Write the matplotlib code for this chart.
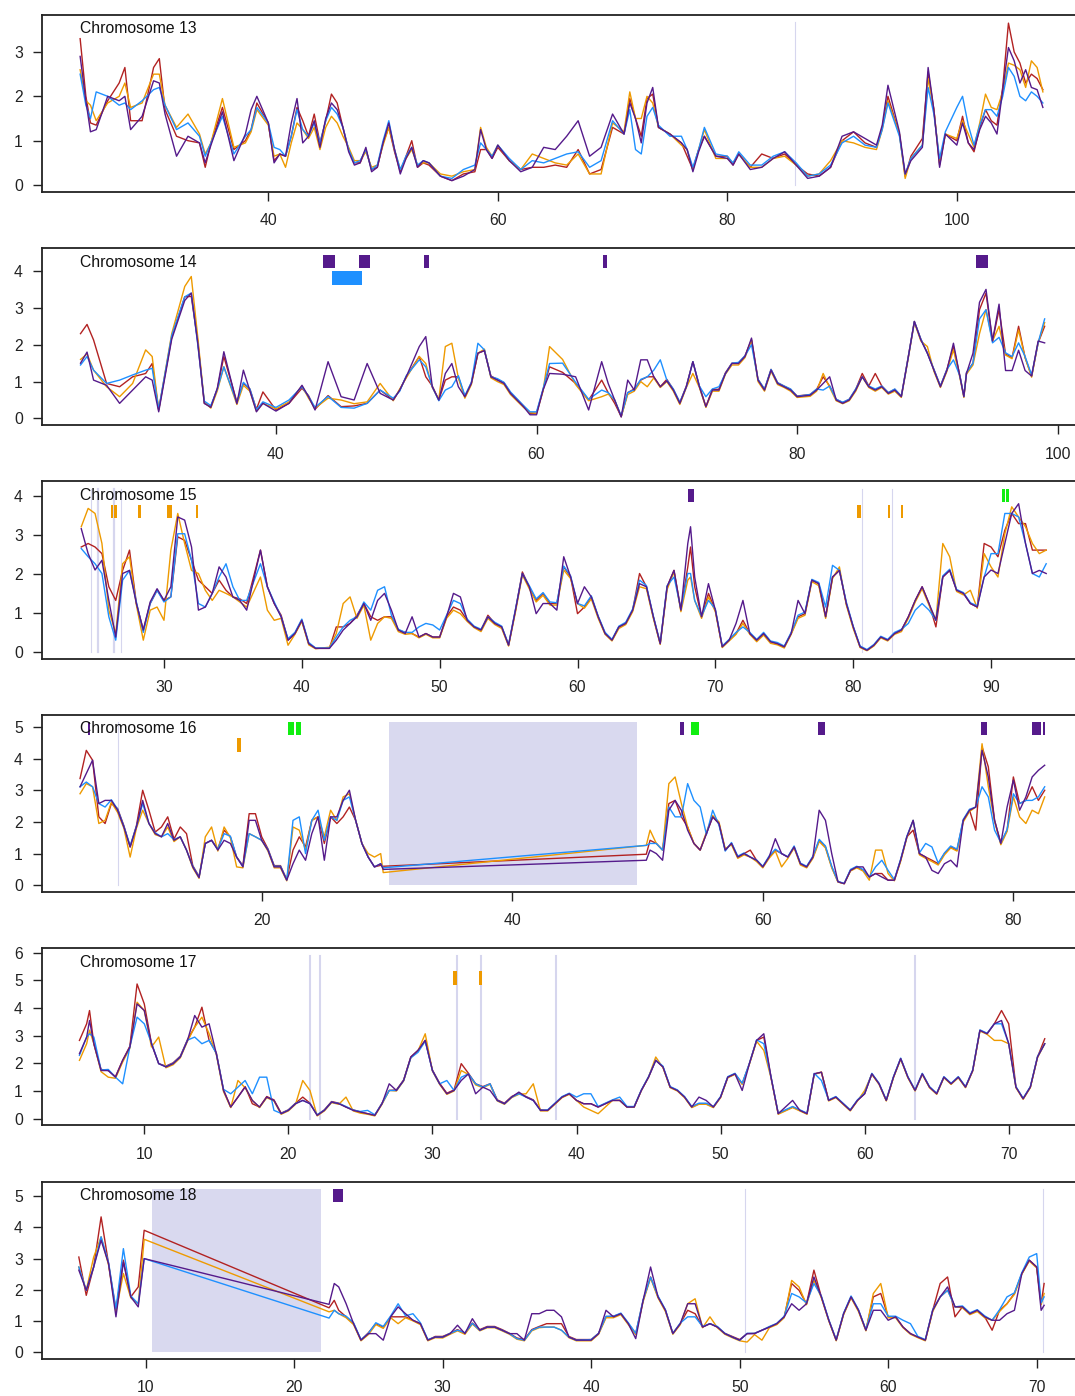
import matplotlib.pyplot as plt
from matplotlib.patches import Rectangle
from matplotlib.transforms import blended_transform_factory

plt.rcParams['font.family'] = ['Liberation Sans', 'DejaVu Sans']

# ---------------- Chromosome 13 ----------------
c13_pos = [23.6, 24.1, 24.5, 25, 26, 27, 27.5, 28, 29, 30,
           30.5, 31, 32, 33, 34, 34.5, 35, 36, 37, 38,
           38.5, 39, 40, 40.5, 41, 41.5, 42, 42.5, 43, 43.5,
           44, 44.5, 45, 45.5, 46, 46.5, 47, 47.5, 48, 48.5,
           49, 49.5, 50, 50.5, 51, 51.5, 52, 52.5, 53, 53.5,
           54, 55, 56, 57, 58, 58.5, 59, 59.5, 60, 61,
           62, 63, 64, 65, 66, 67, 68, 69, 70, 71,
           71.5, 72, 72.5, 73, 73.5, 74, 75, 76, 76.5, 77,
           77.5, 78, 79, 80, 80.5, 81, 82, 83, 84, 85,
           86, 87, 88, 89, 90, 91, 92, 93, 93.5, 94,
           95, 95.5, 96, 97, 97.5, 98, 98.5, 99, 100, 100.5,
           101, 101.5, 102, 102.5, 103, 103.5, 104, 104.5, 105, 105.5,
           106, 106.5, 107, 107.5]
c13_red = [3.3, 2.0, 1.4, 1.35, 1.9, 2.3, 2.65, 1.45, 1.45, 2.65,
           2.85, 1.7, 1.1, 1.0, 0.95, 0.4, 0.95, 1.75, 0.8, 1.0,
           1.25, 1.85, 1.4, 0.55, 0.7, 0.65, 1.1, 1.75, 1.45, 1.1,
           1.6, 0.95, 1.45, 2.05, 1.85, 1.3, 0.8, 0.5, 0.5, 0.8,
           0.35, 0.4, 0.95, 1.3, 0.75, 0.3, 0.65, 1.0, 0.4, 0.5,
           0.45, 0.2, 0.1, 0.25, 0.3, 0.8, 0.8, 0.6, 0.85, 0.55,
           0.35, 0.4, 0.4, 0.45, 0.4, 0.8, 0.25, 0.35, 1.3, 1.15,
           1.95, 1.5, 1.1, 1.95, 2.05, 1.3, 1.15, 0.95, 0.65, 0.35,
           0.8, 1.1, 0.65, 0.65, 0.45, 0.7, 0.4, 0.7, 0.6, 0.7,
           0.45, 0.25, 0.2, 0.4, 1.0, 1.2, 0.95, 0.85, 1.3, 2.0,
           1.15, 0.2, 0.65, 1.05, 2.55, 1.7, 0.45, 1.15, 1.0, 1.55,
           0.95, 0.75, 1.3, 1.7, 1.45, 1.35, 2.2, 3.65, 3.0, 2.75,
           2.3, 2.5, 2.4, 2.15]
c13_orange = [2.6, 1.9, 1.8, 1.45, 1.85, 2.0, 2.3, 1.75, 1.85, 2.5,
              2.5, 1.8, 1.3, 1.6, 1.15, 0.7, 0.95, 1.95, 0.85, 0.95,
              1.2, 1.7, 1.35, 0.65, 0.7, 0.4, 0.95, 1.4, 1.25, 1.05,
              1.3, 0.8, 1.3, 1.55, 1.4, 1.1, 0.85, 0.55, 0.55, 0.75,
              0.4, 0.45, 0.9, 1.3, 0.8, 0.35, 0.6, 0.8, 0.45, 0.5,
              0.5, 0.25, 0.2, 0.3, 0.35, 1.3, 0.85, 0.65, 0.9, 0.55,
              0.35, 0.7, 0.6, 0.5, 0.45, 0.7, 0.25, 0.25, 1.4, 1.2,
              2.1, 1.5, 1.5, 2.0, 1.85, 1.3, 1.15, 0.9, 0.8, 0.35,
              0.8, 1.25, 0.6, 0.6, 0.5, 0.7, 0.4, 0.4, 0.6, 0.65,
              0.45, 0.2, 0.25, 0.55, 1.0, 0.95, 0.85, 0.8, 1.25, 1.9,
              1.15, 0.15, 0.6, 0.9, 2.4, 1.7, 0.5, 1.15, 1.05, 1.45,
              1.15, 0.85, 1.4, 2.05, 1.75, 1.7, 2.1, 2.75, 2.7, 2.6,
              2.2, 2.8, 2.65, 2.1]
c13_blue = [2.5, 1.8, 1.5, 2.1, 2.0, 1.8, 1.85, 1.7, 1.9, 2.15,
            2.2, 1.8, 1.25, 1.4, 1.1, 0.65, 0.95, 1.55, 0.7, 1.1,
            1.25, 1.75, 1.4, 0.85, 0.8, 0.65, 1.1, 1.7, 1.25, 1.1,
            1.4, 0.95, 1.45, 1.75, 1.6, 1.3, 0.8, 0.5, 0.55, 0.8,
            0.35, 0.45, 1.0, 1.45, 0.8, 0.35, 0.65, 0.85, 0.45, 0.55,
            0.5, 0.2, 0.15, 0.35, 0.45, 0.95, 0.8, 0.65, 0.9, 0.6,
            0.35, 0.55, 0.5, 0.6, 0.7, 0.75, 0.4, 0.55, 1.45, 1.15,
            1.7, 0.8, 0.7, 1.55, 1.75, 1.35, 1.1, 1.1, 0.8, 0.4,
            0.8, 1.3, 0.7, 0.65, 0.5, 0.75, 0.45, 0.45, 0.65, 0.75,
            0.5, 0.2, 0.25, 0.45, 0.95, 1.1, 0.9, 0.85, 1.25, 1.85,
            1.1, 0.25, 0.6, 0.9, 2.2, 1.6, 0.6, 1.2, 1.75, 2.0,
            1.35, 0.9, 1.35, 1.7, 1.7, 1.55, 2.0, 2.65, 2.45, 2.0,
            1.9, 2.1, 2.0, 1.85]
c13_purple = [2.9, 1.9, 1.2, 1.25, 2.0, 1.9, 2.0, 1.25, 1.55, 2.35,
              2.3, 1.6, 0.65, 1.1, 0.95, 0.5, 0.9, 1.65, 0.55, 1.15,
              1.7, 2.0, 1.4, 0.5, 0.7, 0.65, 1.4, 1.95, 0.95, 1.1,
              1.45, 0.85, 1.5, 1.85, 1.7, 1.3, 0.75, 0.45, 0.5, 0.85,
              0.3, 0.4, 0.95, 1.4, 0.8, 0.25, 0.6, 0.85, 0.4, 0.55,
              0.5, 0.2, 0.1, 0.2, 0.35, 1.25, 0.8, 0.6, 0.9, 0.55,
              0.3, 0.4, 0.85, 0.8, 1.1, 1.45, 0.65, 0.85, 1.6, 1.15,
              1.85, 1.5, 0.95, 1.85, 2.2, 1.3, 1.15, 0.95, 0.8, 0.3,
              0.75, 1.1, 0.65, 0.6, 0.45, 0.7, 0.35, 0.4, 0.6, 0.75,
              0.45, 0.15, 0.2, 0.4, 1.1, 1.2, 1.05, 0.9, 1.35, 2.25,
              1.2, 0.25, 0.55, 0.85, 2.65, 1.7, 0.4, 1.15, 0.9, 1.4,
              0.95, 0.8, 1.25, 1.55, 1.4, 1.15, 2.15, 3.1, 2.8, 2.3,
              2.6, 2.2, 2.15, 1.75]

# ---------------- Chromosome 14 ----------------
c14_pos = [25, 25.5, 26, 27, 28, 29, 30, 30.5, 31, 32,
           33, 33.5, 34, 34.5, 35, 35.5, 36, 37, 37.5, 38,
           38.5, 39, 40, 41, 42, 42.5, 43, 44, 45, 46,
           47, 48, 49, 49.5, 50, 51, 51.5, 52, 52.5, 53,
           53.5, 54, 54.5, 55, 55.5, 56, 56.5, 57, 57.5, 58,
           59, 59.5, 60, 60.5, 61, 62, 63, 64, 65, 65.5,
           66, 66.5, 67, 67.5, 68, 68.5, 69, 69.5, 70, 70.5,
           71, 71.5, 72, 72.5, 73, 73.5, 74, 74.5, 75, 75.5,
           76, 76.5, 77, 77.5, 78, 78.5, 79, 79.5, 80, 81,
           81.5, 82, 82.5, 83, 83.5, 84, 84.5, 85, 85.5, 86,
           86.5, 87, 87.5, 88, 88.5, 89, 89.5, 90, 90.5, 91,
           91.5, 92, 92.5, 92.8, 93, 93.5, 94, 94.5, 95, 95.5,
           96, 96.5, 97, 97.5, 98, 98.5, 99]
c14_red = [2.3, 2.55, 2.13, 0.95, 0.86, 1.13, 1.22, 1.49, 0.23, 2.2,
           3.3, 3.31, 2.1, 0.41, 0.32, 0.8, 1.68, 0.45, 0.95, 0.8,
           0.25, 0.72, 0.23, 0.41, 0.82, 0.62, 0.25, 0.62, 0.32, 0.34,
           0.41, 0.77, 0.5, 0.77, 1.13, 1.68, 1.13, 0.88, 0.5, 1.04,
           1.13, 1.13, 0.59, 0.97, 1.77, 1.84, 1.15, 1.06, 0.97, 0.7,
           0.34, 0.14, 0.14, 0.78, 1.4, 1.25, 0.95, 0.5, 1.04, 0.7,
           0.41, 0.05, 0.7, 0.8, 1.04, 1.13, 1.13, 0.86, 1.06, 0.79,
           0.43, 0.88, 1.54, 0.88, 0.32, 0.79, 0.79, 1.24, 1.5, 1.5,
           1.7, 2.13, 1.06, 0.79, 1.33, 0.97, 0.88, 0.79, 0.61, 0.65,
           0.79, 1.13, 0.88, 0.52, 0.43, 0.52, 0.79, 1.22, 0.88, 1.22,
           0.88, 0.7, 0.79, 0.61, 1.61, 2.63, 2.15, 1.77, 1.33, 0.88,
           1.33, 1.95, 1.15, 0.61, 1.24, 1.5, 2.95, 3.4, 2.1, 2.95,
           1.75, 1.65, 2.5, 1.65, 1.15, 2.05, 2.5]
c14_orange = [1.6, 1.75, 1.31, 0.86, 0.59, 0.95, 1.86, 1.68, 0.23, 2.3,
              3.58, 3.85, 2.2, 0.45, 0.28, 0.75, 1.4, 0.38, 0.9, 0.74,
              0.2, 0.41, 0.26, 0.45, 0.88, 0.55, 0.28, 0.55, 0.5, 0.4,
              0.45, 0.95, 0.48, 0.8, 1.1, 1.68, 1.49, 0.84, 0.52, 1.95,
              2.04, 1.1, 0.55, 0.92, 1.77, 1.88, 1.1, 1.0, 0.92, 0.65,
              0.3, 0.16, 0.14, 0.74, 1.95, 1.6, 0.92, 0.48, 0.59, 0.66,
              0.5, 0.05, 0.65, 0.74, 1.0, 0.86, 1.1, 0.84, 1.0, 0.74,
              0.38, 0.84, 1.22, 0.84, 0.3, 0.74, 0.74, 1.2, 1.45, 1.45,
              1.65, 2.13, 1.0, 0.74, 1.28, 0.92, 0.84, 0.74, 0.57, 0.6,
              0.74, 1.22, 0.84, 0.48, 0.4, 0.48, 0.74, 1.13, 0.84, 0.74,
              0.84, 0.66, 0.74, 0.57, 1.57, 2.6, 2.1, 1.95, 1.28, 0.84,
              1.28, 1.86, 1.1, 0.57, 1.2, 1.45, 2.3, 2.95, 2.1, 2.5,
              1.72, 1.62, 2.4, 1.65, 1.12, 2.05, 2.6]
c14_blue = [1.45, 1.68, 1.31, 0.95, 1.04, 1.18, 1.31, 1.36, 0.25, 2.25,
            3.3, 3.4, 2.0, 0.47, 0.35, 0.8, 1.4, 0.43, 0.98, 0.8,
            0.24, 0.45, 0.3, 0.5, 0.86, 0.6, 0.3, 0.6, 0.3, 0.28,
            0.41, 0.77, 0.55, 0.74, 1.16, 1.59, 1.4, 0.86, 0.48, 0.77,
            0.86, 1.16, 0.62, 0.98, 2.04, 1.86, 1.13, 1.08, 0.98, 0.72,
            0.35, 0.18, 0.18, 0.8, 1.49, 1.5, 0.98, 0.52, 0.77, 0.7,
            0.5, 0.07, 0.7, 0.78, 1.06, 1.13, 1.31, 1.59, 1.04, 0.8,
            0.44, 0.86, 1.54, 0.88, 0.59, 0.8, 0.86, 1.22, 1.5, 1.52,
            1.7, 2.0, 1.06, 0.8, 1.33, 0.97, 0.88, 0.8, 0.6, 0.65,
            0.8, 0.77, 0.88, 0.52, 0.44, 0.52, 0.8, 1.13, 0.88, 0.8,
            0.88, 0.7, 0.8, 0.6, 1.6, 2.63, 2.15, 1.77, 1.33, 0.88,
            1.33, 1.59, 1.15, 0.6, 1.24, 1.5, 2.7, 2.95, 2.05, 2.2,
            1.78, 1.68, 2.05, 1.68, 1.18, 2.05, 2.7]
c14_purple = [1.5, 1.8, 1.04, 0.9, 0.41, 0.77, 1.13, 1.04, 0.18, 2.15,
              3.2, 3.4, 2.04, 0.41, 0.3, 0.82, 1.81, 0.4, 1.31, 0.75,
              0.18, 0.41, 0.2, 0.41, 0.9, 0.59, 0.23, 1.54, 0.59, 0.5,
              1.49, 0.68, 0.5, 0.77, 1.13, 1.95, 2.22, 0.86, 0.5, 1.22,
              1.49, 0.86, 0.59, 0.95, 1.77, 1.84, 1.13, 1.04, 0.95, 0.68,
              0.32, 0.1, 0.1, 0.77, 1.22, 1.2, 1.13, 0.23, 1.54, 0.95,
              0.5, 0.04, 1.04, 0.77, 1.59, 1.59, 1.13, 0.86, 1.02, 0.77,
              0.41, 0.86, 1.54, 0.86, 0.32, 0.77, 0.77, 1.22, 1.49, 1.49,
              1.68, 2.18, 1.04, 0.77, 1.31, 0.95, 0.86, 0.77, 0.59, 0.63,
              0.77, 0.95, 1.13, 0.5, 0.41, 0.5, 0.77, 1.13, 0.86, 0.77,
              0.86, 0.68, 0.77, 0.59, 1.59, 2.63, 2.13, 1.77, 1.31, 0.86,
              1.31, 2.04, 1.13, 0.59, 1.22, 1.77, 3.15, 3.5, 2.1, 3.1,
              1.3, 1.3, 1.85, 1.3, 1.15, 2.1, 2.05]

# ---------------- Chromosome 15 ----------------
c15_pos = [24, 24.5, 25, 25.5, 26, 26.5, 27, 27.5, 28, 28.5,
           29, 29.5, 30, 30.5, 31, 31.5, 32, 32.5, 33, 33.5,
           34, 34.5, 35, 35.5, 36, 37, 37.5, 38, 38.5, 39,
           39.5, 40, 40.5, 41, 42, 42.5, 43, 43.5, 44, 44.5,
           45, 45.5, 46, 46.5, 47, 47.5, 48, 48.5, 49, 49.5,
           50, 50.5, 51, 51.5, 52, 52.5, 53, 53.5, 54, 54.5,
           55, 55.5, 56, 56.5, 57, 57.5, 58, 58.5, 59, 59.5,
           60, 60.5, 61, 61.5, 62, 62.5, 63, 63.5, 64, 64.5,
           65, 65.5, 66, 66.5, 67, 67.5, 68, 68.2, 68.5, 69,
           69.5, 70, 70.5, 71, 71.5, 72, 72.5, 73, 73.5, 74,
           74.5, 75, 75.5, 76, 76.5, 77, 77.5, 78, 78.5, 79,
           79.5, 80, 80.5, 81, 81.5, 82, 82.5, 83, 83.5, 84,
           84.5, 85, 85.5, 86, 86.5, 87, 87.5, 88, 88.5, 89,
           89.5, 90, 90.5, 91, 91.5, 92, 92.5, 93, 93.5, 94]
c15_red = [2.69, 2.78, 2.69, 2.52, 1.67, 1.32, 2.09, 2.61, 1.24, 0.56,
           1.24, 1.58, 1.32, 1.41, 2.95, 2.86, 2.35, 1.84, 1.67, 1.5,
           1.84, 1.58, 1.41, 1.36, 1.24, 2.61, 1.67, 1.24, 0.94, 0.3,
           0.47, 0.81, 0.21, 0.09, 0.09, 0.64, 0.64, 0.73, 0.94, 1.24,
           0.9, 0.81, 0.9, 0.9, 0.56, 0.5, 0.47, 0.38, 0.47, 0.38,
           0.38, 0.9, 1.15, 1.07, 0.81, 0.64, 0.56, 0.94, 0.73, 0.64,
           0.17, 1.07, 2.05, 1.67, 1.32, 1.5, 1.24, 1.24, 2.18, 1.92,
           0.98, 1.15, 1.41, 0.9, 0.47, 0.3, 0.64, 0.73, 1.07, 2.01,
           1.67, 0.9, 0.21, 1.67, 2.09, 1.07, 2.18, 2.69, 1.67, 0.9,
           1.5, 1.07, 0.13, 0.3, 0.47, 0.81, 0.47, 0.3, 0.47, 0.26,
           0.21, 0.13, 0.47, 0.9, 0.98, 1.84, 1.75, 0.9, 1.92, 2.09,
           1.24, 0.64, 0.13, 0.04, 0.17, 0.38, 0.3, 0.47, 0.56, 0.9,
           1.32, 1.67, 1.24, 0.64, 1.92, 2.09, 1.58, 1.5, 1.24, 1.15,
           2.78, 2.69, 2.44, 3.12, 3.55, 3.29, 3.29, 2.61, 2.61, 2.61]
c15_orange = [3.21, 3.68, 3.55, 2.78, 1.07, 0.47, 2.26, 2.44, 1.2, 0.3,
              1.07, 1.15, 0.81, 2.61, 3.55, 2.78, 2.09, 2.01, 1.58, 1.32,
              1.58, 1.5, 1.41, 1.28, 1.15, 1.92, 1.07, 0.81, 0.86, 0.17,
              0.45, 0.78, 0.18, 0.08, 0.12, 0.47, 1.24, 1.41, 0.86, 1.2,
              0.3, 0.73, 0.9, 0.86, 0.52, 0.45, 0.47, 0.36, 0.45, 0.36,
              0.36, 0.86, 1.07, 0.98, 0.78, 0.62, 0.52, 0.86, 0.7, 0.6,
              0.15, 1.02, 1.97, 1.62, 1.28, 1.45, 1.2, 1.2, 2.1, 1.88,
              1.24, 1.12, 1.36, 0.86, 0.45, 0.28, 0.6, 0.7, 1.03, 1.67,
              1.62, 0.86, 0.19, 1.6, 2.05, 1.03, 1.84, 1.92, 1.32, 0.86,
              1.41, 1.03, 0.11, 0.28, 0.45, 0.73, 0.45, 0.26, 0.43, 0.22,
              0.18, 0.1, 0.45, 0.86, 0.94, 1.8, 1.7, 0.86, 1.88, 2.18,
              1.2, 0.6, 0.11, 0.03, 0.15, 0.36, 0.28, 0.45, 0.52, 0.86,
              1.28, 1.62, 1.2, 0.81, 2.78, 2.44, 1.55, 1.46, 1.58, 1.12,
              2.52, 2.18, 1.92, 3.03, 3.72, 3.46, 3.21, 2.78, 2.52, 2.61]
c15_blue = [2.65, 2.44, 2.26, 2.01, 0.9, 0.3, 1.84, 2.09, 1.28, 0.5,
            1.24, 1.58, 1.28, 1.41, 3.03, 3.03, 2.35, 1.24, 1.15, 1.5,
            1.92, 2.26, 1.67, 1.32, 1.32, 2.26, 1.67, 1.28, 0.9, 0.34,
            0.5, 0.84, 0.24, 0.1, 0.1, 0.38, 0.64, 0.81, 0.9, 1.28,
            1.07, 1.58, 1.67, 0.94, 0.58, 0.5, 0.5, 0.64, 0.73, 0.69,
            0.56, 0.94, 1.32, 1.24, 0.84, 0.66, 0.58, 0.9, 0.76, 0.66,
            0.19, 1.1, 2.01, 1.7, 1.36, 1.52, 1.28, 1.26, 2.2, 1.95,
            1.24, 1.18, 1.44, 0.92, 0.5, 0.32, 0.66, 0.76, 1.1, 1.84,
            1.7, 0.92, 0.23, 1.7, 1.92, 1.1, 2.01, 2.01, 1.32, 0.92,
            1.32, 1.1, 0.15, 0.32, 0.5, 0.64, 0.5, 0.32, 0.5, 0.28,
            0.24, 0.15, 0.5, 0.94, 1.02, 1.86, 1.78, 1.15, 2.22, 2.09,
            1.28, 0.66, 0.15, 0.06, 0.19, 0.4, 0.32, 0.5, 0.58, 0.73,
            1.07, 1.24, 1.07, 0.81, 1.95, 2.12, 1.6, 1.52, 1.26, 1.18,
            1.92, 2.52, 2.52, 3.55, 3.55, 3.46, 2.78, 2.01, 1.92, 2.26]
c15_purple = [3.16, 2.52, 2.1, 2.35, 1.32, 0.38, 2.01, 2.09, 1.24, 0.56,
              1.28, 1.62, 1.32, 1.67, 3.46, 3.38, 2.69, 1.07, 1.15, 1.5,
              2.18, 1.92, 1.41, 1.32, 1.07, 2.61, 1.67, 1.24, 0.9, 0.3,
              0.47, 0.81, 0.21, 0.09, 0.09, 0.3, 0.56, 0.73, 0.9, 1.24,
              0.81, 1.32, 1.5, 1.07, 0.56, 0.47, 0.9, 0.38, 0.47, 0.38,
              0.38, 0.9, 1.5, 1.41, 0.81, 0.64, 0.56, 0.9, 0.73, 0.64,
              0.17, 1.07, 2.01, 1.67, 0.98, 1.24, 1.24, 1.07, 2.44, 1.92,
              1.24, 1.67, 1.41, 0.9, 0.47, 0.3, 0.64, 0.73, 1.07, 1.75,
              1.67, 0.9, 0.21, 1.67, 2.09, 1.07, 2.78, 3.21, 1.92, 0.9,
              1.75, 1.07, 0.13, 0.3, 0.73, 1.32, 0.47, 0.3, 0.47, 0.26,
              0.21, 0.13, 0.47, 1.32, 0.98, 1.84, 1.75, 0.9, 1.92, 2.09,
              1.24, 0.64, 0.13, 0.04, 0.17, 0.38, 0.3, 0.47, 0.56, 0.9,
              1.32, 1.67, 1.24, 0.81, 1.92, 2.09, 1.58, 1.5, 1.24, 1.15,
              1.92, 2.1, 2.01, 2.78, 3.55, 3.8, 2.78, 2.01, 2.09, 2.01]

# ---------------- Chromosome 16 ----------------
c16_pos = [5.5, 6, 6.5, 7, 7.5, 8, 8.5, 9, 9.5, 10,
           10.5, 11, 11.5, 12, 12.5, 13, 13.5, 14, 14.5, 15,
           15.5, 16, 16.5, 17, 17.5, 18, 18.5, 19, 19.5, 20,
           20.5, 21, 21.5, 22, 22.5, 23, 23.5, 24, 24.5, 25,
           25.5, 26, 26.5, 27, 27.5, 28, 28.5, 29, 29.5, 29.7,
           50.7, 51, 51.5, 52, 52.5, 53, 53.5, 54, 54.5, 55,
           55.5, 56, 56.5, 57, 57.5, 58, 58.5, 59, 59.5, 60,
           60.5, 61, 61.5, 62, 62.5, 63, 63.5, 64, 64.5, 65,
           65.5, 66, 66.5, 67, 67.5, 68, 68.5, 69, 69.5, 70,
           70.5, 71, 71.5, 72, 72.5, 73, 73.5, 74, 74.5, 75,
           75.5, 76, 76.5, 77, 77.5, 78, 78.5, 79, 79.5, 80,
           80.5, 81, 81.5, 82, 82.5]
c16_red = [3.37, 4.26, 3.95, 2.16, 1.95, 2.58, 2.42, 1.88, 1.21, 1.88,
           3.0, 2.37, 1.68, 1.84, 2.16, 1.46, 1.84, 1.63, 0.62, 0.28,
           1.32, 1.42, 1.15, 1.74, 1.53, 0.89, 0.62, 2.26, 2.26, 1.53,
           1.15, 0.62, 0.62, 0.18, 1.11, 1.53, 1.21, 2.05, 2.16, 1.32,
           2.16, 1.95, 2.16, 2.47, 2.05, 1.32, 0.89, 0.58, 0.63, 0.6,
           0.98, 1.42, 1.32, 1.11, 2.58, 2.68, 2.16, 1.84, 1.32, 1.11,
           1.63, 2.16, 1.95, 1.11, 1.32, 0.89, 1.0, 1.11, 0.79, 0.58,
           0.89, 1.11, 1.0, 0.89, 1.21, 0.68, 0.58, 0.89, 1.42, 1.21,
           0.58, 0.11, 0.05, 0.47, 0.58, 0.47, 0.26, 0.37, 0.37, 0.16,
           0.16, 0.79, 1.53, 1.74, 1.0, 0.89, 0.79, 0.68, 1.0, 1.21,
           1.11, 2.05, 2.37, 1.74, 4.37, 3.74, 2.05, 1.32, 1.74, 3.42,
           2.58, 2.68, 3.11, 2.68, 3.0]
c16_orange = [2.89, 3.21, 3.11, 1.95, 2.05, 2.62, 2.3, 1.8, 0.89, 1.8,
              2.37, 1.95, 1.6, 1.53, 1.84, 1.38, 1.53, 1.11, 0.55, 0.22,
              1.53, 1.84, 1.08, 1.84, 1.5, 0.58, 0.55, 1.63, 1.53, 1.42,
              1.08, 0.55, 0.55, 0.14, 1.84, 1.74, 1.11, 2.05, 2.16, 1.53,
              2.37, 2.05, 2.79, 2.89, 2.05, 1.32, 1.0, 0.89, 1.0, 0.4,
              1.26, 1.74, 1.32, 1.11, 3.21, 3.42, 2.58, 1.84, 1.32, 1.11,
              1.68, 2.2, 2.0, 1.15, 1.28, 0.85, 0.96, 0.89, 0.75, 0.55,
              0.85, 1.08, 0.58, 0.85, 1.18, 0.64, 0.55, 0.85, 1.38, 1.18,
              0.55, 0.1, 0.05, 0.45, 0.55, 0.45, 0.16, 1.11, 1.11, 0.37,
              0.14, 0.75, 1.5, 2.05, 0.96, 0.85, 0.75, 0.64, 0.96, 1.18,
              1.08, 2.0, 2.33, 2.47, 4.47, 3.11, 2.02, 1.28, 1.7, 2.79,
              2.16, 1.95, 2.37, 2.26, 2.79]
c16_blue = [3.11, 3.26, 3.11, 2.58, 2.47, 2.7, 2.4, 1.86, 1.25, 1.86,
            2.58, 1.95, 1.66, 1.53, 1.63, 1.44, 1.53, 1.11, 0.6, 0.26,
            1.32, 1.42, 1.13, 1.63, 1.55, 0.89, 0.6, 1.63, 1.53, 1.42,
            1.13, 0.6, 0.6, 0.17, 2.05, 2.16, 1.0, 2.05, 2.37, 1.42,
            2.16, 2.05, 2.68, 2.79, 2.05, 1.32, 0.89, 0.58, 0.68, 0.55,
            1.26, 1.32, 1.32, 1.11, 2.47, 2.16, 2.16, 3.21, 2.68, 2.47,
            1.6, 2.37, 1.9, 1.08, 1.35, 0.92, 1.02, 0.89, 0.8, 0.6,
            0.92, 1.14, 1.0, 0.9, 1.24, 0.7, 0.6, 0.92, 1.45, 1.24,
            0.6, 0.12, 0.06, 0.5, 0.6, 0.5, 0.26, 0.58, 0.79, 0.47,
            0.18, 0.82, 1.55, 2.05, 1.02, 1.32, 1.21, 0.7, 1.02, 1.24,
            1.14, 2.08, 2.4, 2.47, 3.11, 2.79, 1.74, 1.35, 1.76, 2.89,
            2.58, 2.68, 2.68, 2.79, 3.11]
c16_purple = [3.11, 3.53, 3.95, 2.58, 2.68, 2.68, 2.37, 1.84, 1.21, 1.84,
              2.68, 1.95, 1.63, 1.53, 1.95, 1.42, 1.53, 1.11, 0.58, 0.24,
              1.32, 1.42, 1.11, 1.42, 1.32, 0.89, 0.58, 2.05, 2.05, 1.42,
              1.11, 0.58, 0.58, 0.16, 0.68, 1.11, 0.79, 1.63, 2.16, 0.79,
              2.16, 2.16, 2.68, 3.0, 2.05, 1.32, 0.89, 0.58, 0.68, 0.5,
              0.79, 1.11, 1.0, 0.79, 2.37, 2.68, 2.37, 1.74, 1.32, 1.11,
              1.63, 2.16, 1.95, 1.11, 1.32, 0.89, 1.0, 0.89, 0.79, 0.58,
              0.89, 1.47, 1.0, 0.89, 1.21, 0.68, 0.58, 0.89, 2.37, 2.05,
              1.0, 0.11, 0.05, 0.47, 0.58, 0.58, 0.26, 0.37, 0.26, 0.16,
              0.16, 0.79, 1.53, 2.05, 1.0, 0.89, 0.47, 0.37, 0.68, 0.79,
              0.58, 2.05, 2.37, 2.47, 4.26, 3.42, 2.05, 1.32, 2.47, 3.32,
              2.37, 2.79, 3.42, 3.63, 3.79]

# ---------------- Chromosome 17 ----------------
c17_pos = [5.5, 6, 6.2, 6.5, 7, 7.5, 8, 8.5, 9, 9.5,
           10, 10.5, 11, 11.5, 12, 12.5, 13, 13.5, 14, 14.5,
           15, 15.5, 16, 16.5, 17, 17.5, 18, 18.5, 19, 19.5,
           20, 20.5, 21, 21.5, 22, 22.5, 23, 23.5, 24, 24.5,
           25, 25.5, 26, 26.5, 27, 27.5, 28, 28.5, 29, 29.5,
           30, 30.5, 31, 31.5, 32, 32.5, 33, 33.5, 34, 34.5,
           35, 35.5, 36, 36.5, 37, 37.5, 38, 38.5, 39, 39.5,
           40, 40.5, 41, 41.5, 42, 42.5, 43, 43.5, 44, 44.5,
           45, 45.5, 46, 46.5, 47, 47.5, 48, 48.5, 49, 49.5,
           50, 50.5, 51, 51.5, 52, 52.5, 53, 53.5, 54, 54.5,
           55, 55.5, 56, 56.5, 57, 57.5, 58, 58.5, 59, 59.5,
           60, 60.5, 61, 61.5, 62, 62.5, 63, 63.5, 64, 64.5,
           65, 65.5, 66, 66.5, 67, 67.5, 68, 68.5, 69, 69.5,
           70, 70.5, 71, 71.5, 72, 72.5]
c17_red = [2.83, 3.43, 3.91, 2.71, 1.78, 1.74, 1.52, 2.11, 2.62, 4.87,
           4.15, 2.71, 1.99, 1.9, 2.02, 2.26, 2.86, 3.31, 4.03, 2.83,
           2.38, 1.04, 0.42, 0.78, 1.16, 0.54, 0.42, 0.8, 0.68, 0.2,
           0.32, 0.56, 0.78, 0.56, 0.13, 0.32, 0.62, 0.56, 0.42, 0.32,
           0.24, 0.18, 0.12, 0.56, 1.02, 1.04, 1.4, 2.23, 2.47, 2.83,
           1.76, 1.28, 0.92, 1.04, 1.99, 1.64, 1.26, 1.16, 1.26, 0.68,
           0.56, 0.8, 0.92, 0.8, 0.68, 0.32, 0.3, 0.54, 0.78, 0.9,
           0.66, 0.54, 0.54, 0.42, 0.54, 0.66, 0.66, 0.42, 0.42, 1.02,
           1.5, 2.11, 1.87, 1.14, 1.02, 0.78, 0.42, 0.54, 0.54, 0.42,
           0.78, 1.5, 1.62, 1.26, 1.99, 2.83, 2.95, 1.5, 0.18, 0.3,
           0.42, 0.3, 0.18, 1.62, 1.68, 0.66, 0.78, 0.54, 0.3, 0.66,
           0.9, 1.62, 1.26, 0.66, 1.5, 2.17, 1.5, 1.02, 1.62, 1.14,
           0.9, 1.5, 1.26, 1.5, 1.14, 1.74, 3.19, 3.07, 3.43, 3.91,
           3.43, 1.14, 0.72, 1.14, 2.23, 2.89]
c17_orange = [2.11, 2.71, 3.2, 2.71, 1.7, 1.5, 1.46, 2.05, 2.55, 4.21,
              3.91, 2.59, 2.95, 1.84, 1.95, 2.2, 2.8, 3.31, 3.67, 3.07,
              2.32, 0.98, 0.4, 1.38, 1.12, 0.66, 0.4, 0.76, 0.64, 0.16,
              0.28, 0.52, 1.38, 1.02, 0.1, 0.28, 0.58, 0.52, 0.78, 0.28,
              0.2, 0.16, 0.1, 0.52, 1.02, 1.0, 1.36, 2.2, 2.45, 3.07,
              1.72, 1.24, 0.88, 1.0, 1.74, 1.6, 1.22, 1.12, 1.24, 0.64,
              0.52, 0.76, 0.88, 0.9, 1.26, 0.28, 0.28, 0.52, 0.76, 0.88,
              0.66, 0.42, 0.3, 0.18, 0.42, 0.66, 0.66, 0.42, 0.42, 1.02,
              1.5, 2.23, 1.85, 1.12, 1.0, 0.76, 0.4, 0.52, 0.52, 0.4,
              0.76, 1.48, 1.6, 1.24, 1.97, 2.8, 2.47, 1.48, 0.16, 0.28,
              0.4, 0.28, 0.16, 1.6, 1.68, 0.64, 0.76, 0.52, 0.28, 0.64,
              1.02, 1.6, 1.24, 0.64, 1.48, 2.15, 1.48, 1.0, 1.6, 1.12,
              0.88, 1.48, 1.24, 1.48, 1.12, 1.72, 3.17, 3.05, 2.83, 2.83,
              2.71, 1.12, 0.7, 1.12, 2.21, 2.71]
c17_blue = [2.29, 2.95, 3.07, 2.95, 1.76, 1.78, 1.5, 1.26, 2.6, 3.67,
            3.43, 2.74, 1.99, 1.88, 2.0, 2.24, 2.84, 2.95, 2.71, 2.83,
            2.36, 1.06, 0.9, 1.14, 1.38, 0.9, 1.5, 1.5, 0.3, 0.19,
            0.31, 0.55, 0.66, 0.55, 0.14, 0.31, 0.6, 0.55, 0.44, 0.31,
            0.26, 0.3, 0.14, 0.55, 1.02, 1.02, 1.38, 2.2, 2.4, 2.8,
            1.74, 1.26, 1.38, 1.02, 1.5, 1.62, 1.26, 1.14, 1.26, 0.66,
            0.54, 0.78, 0.9, 0.78, 0.66, 0.3, 0.32, 0.56, 0.8, 0.92,
            0.78, 0.9, 0.9, 0.44, 0.56, 0.68, 0.78, 0.44, 0.44, 1.04,
            1.52, 2.11, 1.9, 1.16, 1.04, 0.8, 0.44, 0.56, 0.56, 0.44,
            0.8, 1.52, 1.64, 1.28, 2.0, 2.85, 2.71, 1.52, 0.2, 0.32,
            0.44, 0.32, 0.2, 1.64, 1.38, 0.68, 0.8, 0.56, 0.32, 0.68,
            0.92, 1.64, 1.28, 0.68, 1.52, 2.19, 1.52, 1.04, 1.64, 1.16,
            0.92, 1.52, 1.28, 1.52, 1.16, 1.76, 3.21, 3.09, 3.43, 3.43,
            2.71, 1.16, 0.74, 1.16, 2.25, 2.71]
c17_purple = [2.35, 2.95, 3.55, 2.71, 1.74, 1.74, 1.5, 2.11, 2.59, 4.15,
              3.91, 2.71, 1.99, 1.87, 1.99, 2.23, 2.83, 3.73, 3.31, 3.43,
              2.35, 1.02, 0.42, 0.78, 1.14, 0.66, 0.42, 0.78, 0.66, 0.18,
              0.3, 0.54, 0.66, 0.54, 0.12, 0.3, 0.6, 0.54, 0.42, 0.3,
              0.24, 0.18, 0.12, 0.54, 1.26, 1.02, 1.38, 2.23, 2.47, 2.83,
              1.74, 1.26, 0.9, 1.02, 1.38, 1.62, 0.9, 1.14, 1.02, 0.66,
              0.54, 0.78, 0.96, 0.78, 0.66, 0.3, 0.3, 0.54, 0.78, 0.9,
              0.66, 0.54, 0.54, 0.42, 0.54, 0.66, 0.66, 0.42, 0.42, 1.02,
              1.5, 2.11, 1.87, 1.14, 1.02, 0.78, 0.42, 0.78, 0.66, 0.42,
              0.78, 1.5, 1.62, 1.02, 1.99, 2.83, 3.07, 1.5, 0.18, 0.42,
              0.66, 0.3, 0.18, 1.62, 1.68, 0.66, 0.78, 0.54, 0.3, 0.66,
              0.9, 1.62, 1.26, 0.66, 1.5, 2.17, 1.5, 1.02, 1.62, 1.14,
              0.9, 1.5, 1.26, 1.5, 1.14, 1.74, 3.19, 3.07, 3.43, 3.55,
              2.71, 1.14, 0.72, 1.14, 2.23, 2.71]

# ---------------- Chromosome 18 ----------------
c18_pos = [5.5, 6, 6.5, 7, 7.5, 8, 8.5, 9, 9.5, 9.9,
           22.35, 22.7, 23, 23.5, 24, 24.5, 25, 25.5, 26, 26.5,
           27, 27.5, 28, 28.5, 29, 29.5, 30, 30.5, 31, 31.5,
           32, 32.5, 33, 33.5, 34, 34.5, 35, 35.5, 36, 36.5,
           37, 37.5, 38, 38.5, 39, 40, 40.5, 41, 41.5, 42,
           42.5, 43, 43.5, 44, 44.5, 45, 45.5, 46, 46.5, 47,
           47.5, 48, 48.5, 49, 49.5, 50, 50.5, 51, 51.5, 52,
           52.5, 53, 53.5, 54, 54.5, 55, 55.5, 56, 56.5, 57,
           57.5, 58, 58.5, 59, 59.5, 60, 60.5, 61, 61.5, 62,
           62.5, 63, 63.5, 64, 64.5, 65, 65.5, 66, 66.5, 67,
           67.5, 68, 68.5, 69, 69.5, 70, 70.3, 70.5]
c18_red = [3.05, 1.82, 2.73, 4.34, 2.84, 1.34, 2.95, 1.77, 2.09, 3.91,
           1.42, 1.66, 1.34, 1.13, 0.91, 0.38, 0.62, 0.91, 0.8, 1.13,
           1.13, 1.13, 1.02, 0.91, 0.38, 0.5, 0.5, 0.6, 0.72, 0.6,
           0.93, 0.72, 0.82, 0.82, 0.72, 0.6, 0.45, 0.4, 0.72, 0.82,
           0.91, 0.91, 0.91, 0.5, 0.4, 0.4, 0.6, 1.13, 1.15, 1.23,
           0.91, 0.59, 1.66, 2.41, 1.77, 1.34, 0.6, 0.91, 1.34, 1.23,
           0.8, 0.91, 0.8, 0.6, 0.5, 0.4, 0.59, 0.6, 0.7, 0.8,
           0.91, 1.13, 2.2, 1.98, 1.55, 2.63, 1.77, 1.02, 0.38, 1.23,
           1.77, 1.34, 0.7, 1.77, 1.88, 1.13, 1.13, 0.8, 0.59, 0.48,
           0.38, 1.34, 2.2, 2.41, 1.13, 1.45, 1.23, 1.34, 1.13, 0.7,
           1.34, 1.55, 1.88, 2.52, 2.95, 2.73, 1.55, 2.2]
c18_orange = [2.73, 1.98, 3.05, 3.7, 2.8, 1.3, 2.52, 1.74, 1.55, 3.62,
              1.29, 1.34, 1.23, 1.1, 0.88, 0.36, 0.56, 0.88, 0.76, 1.1,
              0.91, 1.1, 1.0, 0.88, 0.36, 0.46, 0.45, 0.57, 0.68, 0.57,
              0.9, 0.68, 0.78, 0.78, 0.68, 0.57, 0.41, 0.36, 0.68, 0.78,
              0.8, 0.8, 0.7, 0.46, 0.36, 0.36, 0.57, 1.1, 1.1, 1.2,
              0.88, 0.56, 1.62, 2.38, 1.74, 1.3, 0.57, 0.88, 1.55, 1.71,
              0.78, 1.13, 0.78, 0.57, 0.46, 0.36, 0.32, 0.56, 0.38, 0.78,
              0.88, 1.1, 2.3, 2.09, 1.52, 2.3, 1.74, 1.0, 0.36, 1.2,
              1.74, 1.3, 0.68, 1.88, 2.2, 1.1, 1.1, 0.78, 0.57, 0.46,
              0.36, 1.3, 1.77, 1.98, 1.45, 1.42, 1.2, 1.3, 1.1, 1.02,
              1.3, 1.55, 1.85, 2.5, 2.92, 2.7, 1.52, 1.88]
c18_blue = [2.73, 1.98, 2.73, 3.7, 2.88, 1.38, 3.32, 1.8, 1.55, 3.0,
            1.09, 1.34, 1.23, 1.15, 0.94, 0.4, 0.6, 0.94, 0.82, 1.16,
            1.55, 1.16, 1.23, 0.94, 0.4, 0.48, 0.48, 0.6, 0.7, 0.62,
            0.92, 0.7, 0.8, 0.8, 0.7, 0.59, 0.43, 0.38, 0.7, 0.8,
            0.8, 0.8, 0.7, 0.48, 0.38, 0.4, 0.6, 1.15, 1.15, 1.25,
            0.94, 0.6, 1.68, 2.4, 1.8, 1.36, 0.6, 0.93, 1.13, 1.13,
            0.82, 0.91, 0.82, 0.6, 0.48, 0.38, 0.6, 0.6, 0.7, 0.82,
            0.92, 1.15, 1.88, 1.77, 1.58, 2.2, 1.8, 1.04, 0.4, 1.25,
            1.8, 1.36, 0.72, 1.55, 1.55, 1.15, 1.15, 1.02, 0.91, 0.5,
            0.4, 1.36, 1.77, 1.98, 1.45, 1.48, 1.26, 1.36, 1.16, 1.02,
            1.36, 1.77, 1.9, 2.55, 3.05, 3.16, 1.58, 1.77]
c18_purple = [2.63, 1.98, 2.73, 3.59, 2.84, 1.13, 2.89, 1.77, 1.45, 3.0,
              1.53, 2.2, 2.09, 1.55, 0.91, 0.38, 0.59, 0.59, 0.38, 1.13,
              1.45, 1.23, 1.02, 0.91, 0.38, 0.48, 0.48, 0.59, 0.86, 0.59,
              1.07, 0.7, 0.8, 0.8, 0.7, 0.59, 0.59, 0.38, 1.23, 1.23,
              1.34, 1.34, 1.13, 0.48, 0.38, 0.38, 0.59, 1.34, 1.13, 1.23,
              0.91, 0.43, 1.66, 2.73, 1.77, 1.34, 0.59, 0.91, 1.55, 1.55,
              0.8, 0.91, 0.8, 0.59, 0.48, 0.38, 0.59, 0.59, 0.7, 0.8,
              0.91, 1.13, 1.55, 1.34, 1.55, 2.41, 1.77, 1.02, 0.38, 1.23,
              1.77, 1.34, 0.7, 1.34, 1.34, 1.02, 1.13, 0.8, 0.59, 0.48,
              0.38, 1.34, 1.77, 2.09, 1.45, 1.45, 1.23, 1.34, 1.13, 1.02,
              1.02, 1.23, 1.34, 2.52, 2.95, 2.73, 1.34, 1.5]

# ---------------- styling ----------------
RED = '#B22222'
ORANGE = '#EE9A00'
BLUE = '#1E90FF'
PURPLE = '#551A8B'
GREEN = '#11EE11'
SHADE = '#D9D9EF'
VLINE = '#D6D6EE'

# marks: (start, end, row, colour); row 1 is the upper strip
panels = [
    dict(title='Chromosome 13', pos=c13_pos,
         series=[c13_red, c13_orange, c13_blue, c13_purple],
         xlim=(20.25, 110.3), ylim=(-0.15, 3.84), yticks=range(0, 4),
         xticks=[40, 60, 80, 100], marks=[], vlines=[(85.9, 0.8)], shade=None),
    dict(title='Chromosome 14', pos=c14_pos,
         series=[c14_red, c14_orange, c14_blue, c14_purple],
         xlim=(22.02, 101.33), ylim=(-0.18, 4.62), yticks=range(0, 5),
         xticks=[40, 60, 80, 100],
         marks=[(43.63, 44.5, 1, PURPLE), (46.37, 47.2, 1, PURPLE),
                (51.38, 51.72, 1, PURPLE), (65.07, 65.38, 1, PURPLE),
                (93.74, 94.66, 1, PURPLE), (44.3, 46.6, 2, BLUE)],
         vlines=[], shade=None),
    dict(title='Chromosome 15', pos=c15_pos,
         series=[c15_red, c15_orange, c15_blue, c15_purple],
         xlim=(21.13, 96.09), ylim=(-0.17, 4.37), yticks=range(0, 5),
         xticks=[30, 40, 50, 60, 70, 80, 90],
         marks=[(26.15, 26.3, 2, ORANGE), (26.4, 26.57, 2, ORANGE),
                (28.1, 28.3, 2, ORANGE), (30.2, 30.6, 2, ORANGE),
                (32.35, 32.5, 2, ORANGE), (80.3, 80.6, 2, ORANGE),
                (82.54, 82.7, 2, ORANGE), (83.44, 83.58, 2, ORANGE),
                (68.04, 68.45, 1, PURPLE), (90.82, 90.98, 1, GREEN),
                (91.08, 91.28, 1, GREEN)],
         vlines=[(24.7, 0.8), (25.2, 1.6), (26.4, 1.6), (26.9, 0.8),
                 (80.63, 0.8), (82.8, 0.8)], shade=None),
    dict(title='Chromosome 16', pos=c16_pos,
         series=[c16_red, c16_orange, c16_blue, c16_purple],
         xlim=(2.44, 84.92), ylim=(-0.21, 5.38), yticks=range(0, 6),
         xticks=[20, 40, 60, 80],
         marks=[(6.15, 6.3, 1, PURPLE), (53.4, 53.67, 1, PURPLE),
                (64.42, 64.95, 1, PURPLE), (77.45, 77.9, 1, PURPLE),
                (81.5, 82.2, 1, PURPLE), (82.35, 82.5, 1, PURPLE),
                (22.12, 22.55, 1, GREEN), (22.7, 23.11, 1, GREEN),
                (54.23, 54.87, 1, GREEN), (18.03, 18.37, 2, ORANGE)],
         vlines=[(8.56, 0.8)], shade=(30.16, 49.98)),
    dict(title='Chromosome 17', pos=c17_pos,
         series=[c17_red, c17_orange, c17_blue, c17_purple],
         xlim=(2.88, 74.6), ylim=(-0.24, 6.16), yticks=range(0, 7),
         xticks=[10, 20, 30, 40, 50, 60, 70],
         marks=[(31.44, 31.7, 2, ORANGE), (33.26, 33.45, 2, ORANGE)],
         vlines=[(21.5, 1.5), (22.2, 1.5), (31.7, 1.5), (33.4, 1.5),
                 (38.6, 1.5), (63.5, 1.5)], shade=None),
    dict(title='Chromosome 18', pos=c18_pos,
         series=[c18_red, c18_orange, c18_blue, c18_purple],
         xlim=(3.0, 72.58), ylim=(-0.215, 5.47), yticks=range(0, 6),
         xticks=[10, 20, 30, 40, 50, 60, 70],
         marks=[(22.6, 23.3, 1, PURPLE)],
         vlines=[(50.36, 0.8), (70.4, 0.8)], shade=(10.42, 21.84)),
]

W, H = 1075, 1396
fig = plt.figure(figsize=(W / 100, H / 100), dpi=100)

left_px = 41.7
ax_h_px = 177.0
rows = {1: (0.885, 0.960), 2: (0.791, 0.870)}
top_frac = 0.958

for i, p in enumerate(panels):
    top_px = 14.7 + i * 233.4
    ax = fig.add_axes([left_px / W, 1 - (top_px + ax_h_px) / H,
                       1 - left_px / W, ax_h_px / H])
    y0, y1 = p['ylim']
    ytop = y0 + top_frac * (y1 - y0)

    if p['shade']:
        s0, s1 = p['shade']
        ax.add_patch(Rectangle((s0, 0), s1 - s0, ytop, facecolor=SHADE,
                               edgecolor='none', zorder=1))
    for xv, lw in p['vlines']:
        ax.plot([xv, xv], [0, ytop], color=VLINE, lw=lw, zorder=1.5)

    for ys, col in zip(p['series'], [RED, ORANGE, BLUE, PURPLE]):
        ax.plot(p['pos'], ys, color=col, lw=1.0, zorder=2)

    trans = blended_transform_factory(ax.transData, ax.transAxes)
    for a, b, row, col in p['marks']:
        r0, r1 = rows[row]
        ax.add_patch(Rectangle((a, r0), b - a, r1 - r0, transform=trans,
                               facecolor=col, edgecolor='none', zorder=3))

    ax.text(0.037, 0.895, p['title'], transform=ax.transAxes,
            fontsize=11.3, va='baseline', ha='left', color='#111111')

    ax.set_xlim(p['xlim'])
    ax.set_ylim(y0, y1)
    ax.set_xticks(p['xticks'])
    ax.set_yticks(list(p['yticks']))
    ax.spines['right'].set_visible(False)
    for s in ('left', 'top', 'bottom'):
        ax.spines[s].set_linewidth(1.3)
        ax.spines[s].set_color('#222222')
    ax.tick_params(axis='both', direction='out', length=6.5, width=1.0,
                   labelsize=11.3, colors='#222222')
    ax.tick_params(axis='x', pad=9)
    ax.tick_params(axis='y', pad=7)

fig.savefig('out.png', dpi=100)
